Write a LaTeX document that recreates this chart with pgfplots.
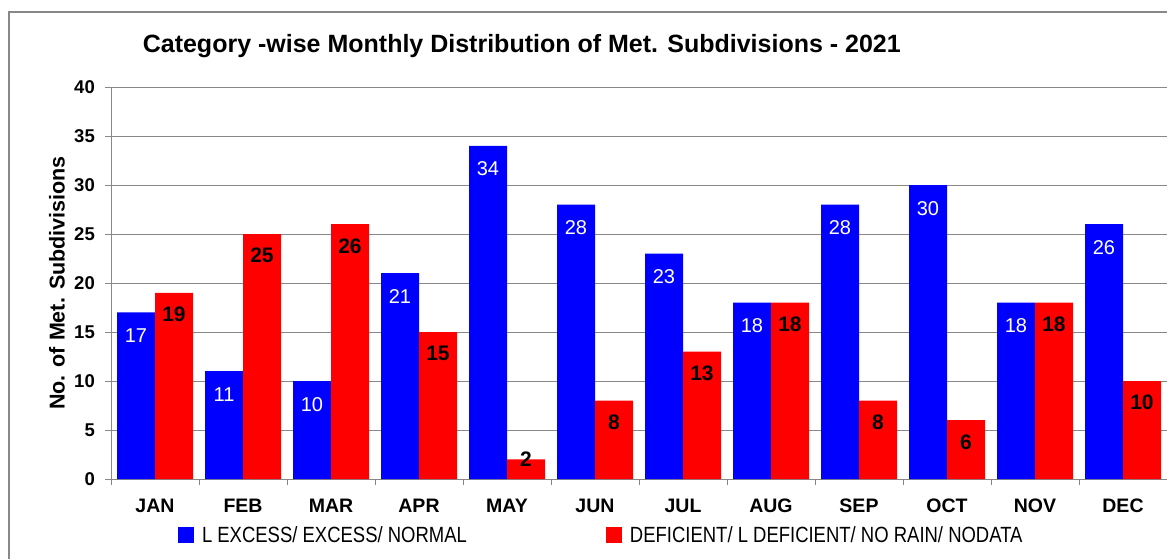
\documentclass[border=0pt]{standalone}
\usepackage{pgfplots}
\pgfplotsset{compat=1.18}
\usepackage{fontspec}
\setmainfont{Liberation Sans}
\definecolor{gridgray}{HTML}{888888}
\definecolor{xblue}{HTML}{0000FF}
\definecolor{xred}{HTML}{FF0000}
\begin{document}
\begin{tikzpicture}[x=1pt,y=1pt]
\path[use as bounding box] (0,0) rectangle (1167,558);
\draw[gridgray, line width=1.5pt] (9,-20) |- (1200,546);
\begin{axis}[
  at={(111pt,79pt)}, anchor=south west,
  scale only axis, width=1056pt, height=392pt,
  xmin=-0.5, xmax=11.5, ymin=0, ymax=40,
  ybar=0pt, bar width=38pt,
  axis x line*=bottom, axis y line*=left,
  axis line style={-, draw=gridgray, line width=1pt},
  tick align=outside, major tick length=6pt,
  tick style={draw=gridgray, line width=1pt},
  ytick={0,5,...,40},
  ymajorgrids, grid style={draw=gridgray, line width=1pt},
  xtick={-0.5,0.5,...,11.5},
  xticklabels={JAN,FEB,MAR,APR,MAY,JUN,JUL,AUG,SEP,OCT,NOV,DEC,{}},
  xticklabel style={font=\fontsize{19.5}{20}\selectfont\bfseries, xshift=44pt, anchor=base, yshift=-27pt},
  yticklabel style={font=\fontsize{18.5}{20}\selectfont\bfseries, anchor=east, inner sep=0pt, xshift=-10pt},
  /pgf/number format/assume math mode=true,
  title={Category -wise Monthly Distribution of Met. Subdivisions - 2021},
  title style={font=\fontsize{25}{26}\selectfont\bfseries, at={(axis description cs:0.389,1)}, anchor=base, yshift=29pt},
  ylabel={No. of Met. Subdivisions},
  every axis y label/.style={at={(axis description cs:0,0.5)}, xshift=-54pt, rotate=90, anchor=center, font=\fontsize{21.5}{22}\selectfont\bfseries},
  legend columns=2,
  legend style={at={(axis description cs:0,0)}, anchor=west, xshift=67pt, yshift=-56pt, draw=none, inner sep=0pt, outer sep=0pt,
    /tikz/every even column/.append style={column sep=139pt},
    nodes={inner sep=0pt, outer sep=0pt, text depth=0pt}},
  legend image code/.code={\fill[#1] (0pt,-8pt) rectangle (16pt,8pt);},
  legend cell align=left,
  visualization depends on={y \as \rawy},
  nodes near coords,
]
\addplot[fill=xblue, draw=none,
  nodes near coords style={text=white, font=\fontsize{20}{20}\selectfont, anchor=north, inner sep=0pt, yshift=-16pt}]
  coordinates {(0,17) (1,11) (2,10) (3,21) (4,34) (5,28) (6,23) (7,18) (8,28) (9,30) (10,18) (11,26)};
\addlegendentry{\hspace{8pt}\scalebox{0.84}[1]{\fontsize{22}{22}\selectfont L EXCESS/ EXCESS/ NORMAL}}
\addplot[fill=xred, draw=none,
  nodes near coords style={text=black, font=\fontsize{21}{21}\selectfont\bfseries, anchor=north, inner sep=0pt, yshift={ifthenelse(\rawy<4,8,-14)}}]
  coordinates {(0,19) (1,25) (2,26) (3,15) (4,2) (5,8) (6,13) (7,18) (8,8) (9,6) (10,18) (11,10)};
\addlegendentry{\hspace{8pt}\scalebox{0.84}[1]{\fontsize{22}{22}\selectfont DEFICIENT/ L DEFICIENT/ NO RAIN/ NODATA}}
\end{axis}
\end{tikzpicture}
\end{document}
